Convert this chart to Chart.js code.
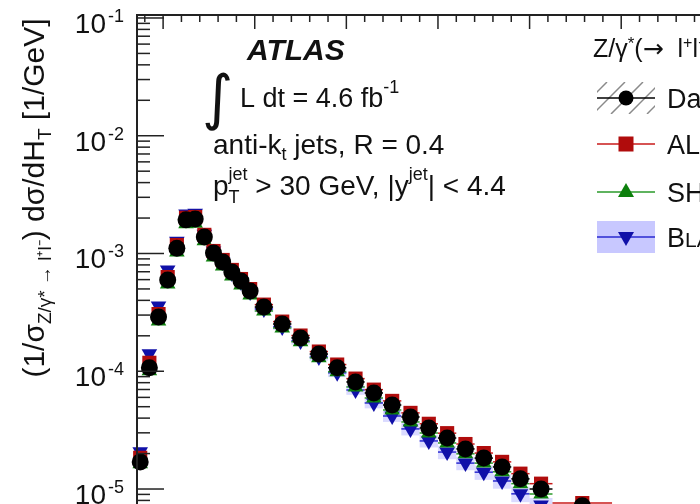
<!DOCTYPE html>
<html>
<head>
<meta charset="utf-8">
<script src="https://cdn.jsdelivr.net/npm/chart.js@4.4.0/dist/chart.umd.min.js"></script>
<style>
  html, body { margin: 0; padding: 0; background: #fff; overflow: hidden; }
  canvas { display: block; }
</style>
</head>
<body>
<canvas id="chart" width="700" height="504"></canvas>
<script>
// H_T bins [GeV]
var binCentres = [75, 85, 95, 105, 115, 125, 135, 145, 155, 165, 175, 185, 195,
                  210, 230, 250, 270, 290, 310, 330, 350, 370, 390, 410, 430, 450, 470, 490,
                  512.5, 557.5];
var binEdges = [70, 80, 90, 100, 110, 120, 130, 140, 150, 160, 170, 180, 190, 200,
                220, 240, 260, 280, 300, 320, 340, 360, 380, 400, 420, 440, 460, 480, 500,
                525, 590];

// (1/sigma) dsigma/dH_T [1/GeV]
var dataValues = [1.70e-5, 1.07e-4, 2.89e-4, 5.95e-4, 1.11e-3, 1.93e-3, 1.96e-3, 1.38e-3, 1.01e-3, 8.47e-4,
                  6.97e-4, 5.84e-4, 4.80e-4, 3.51e-4, 2.52e-4, 1.92e-4, 1.40e-4, 1.07e-4, 8.11e-5, 6.54e-5,
                  5.17e-5, 4.09e-5, 3.30e-5, 2.71e-5, 2.19e-5, 1.83e-5, 1.54e-5, 1.22e-5, 1.00e-5, 7.2e-6];
var alpgenValues = [1.84e-5, 1.18e-4, 3.06e-4, 6.31e-4, 1.18e-3, 2.01e-3, 2.04e-3, 1.44e-3, 1.05e-3, 8.81e-4,
                    7.25e-4, 6.07e-4, 4.99e-4, 3.68e-4, 2.64e-4, 2.01e-4, 1.47e-4, 1.14e-4, 8.66e-5, 6.98e-5,
                    5.60e-5, 4.43e-5, 3.58e-5, 2.98e-5, 2.41e-5, 2.02e-5, 1.70e-5, 1.35e-5, 1.11e-5, 7.6e-6];
var sherpaValues = [1.64e-5, 1.01e-4, 2.67e-4, 5.50e-4, 1.03e-3, 1.79e-3, 1.81e-3, 1.28e-3, 9.34e-4, 7.83e-4,
                    6.45e-4, 5.40e-4, 4.44e-4, 3.25e-4, 2.33e-4, 1.78e-4, 1.30e-4, 9.9e-5, 7.36e-5, 5.93e-5,
                    4.69e-5, 3.71e-5, 2.99e-5, 2.46e-5, 1.99e-5, 1.66e-5, 1.40e-5, 1.11e-5, 9.07e-6, 6.66e-6];
var blackhatValues = [2.07e-5, 1.41e-4, 3.58e-4, 7.24e-4, 1.27e-3, 2.17e-3, 2.20e-3, 1.46e-3, 1.05e-3, 8.47e-4,
                      6.84e-4, 5.73e-4, 4.71e-4, 3.38e-4, 2.38e-4, 1.81e-4, 1.32e-4, 9.7e-5, 6.93e-5, 5.38e-5,
                      4.17e-5, 3.24e-5, 2.56e-5, 2.06e-5, 1.66e-5, 1.39e-5, 1.17e-5, 9.1e-6, 7.3e-6, 5.3e-6];
// relative theory uncertainty of the BlackHat+Sherpa prediction
var blackhatRelErr = [0.08, 0.07, 0.06, 0.06, 0.06, 0.05, 0.05, 0.05, 0.05, 0.05,
                      0.05, 0.05, 0.05, 0.06, 0.06, 0.07, 0.07, 0.08, 0.09, 0.10,
                      0.11, 0.12, 0.12, 0.13, 0.13, 0.14, 0.14, 0.15, 0.15, 0.16];

var yDecades = [-1, -2, -3, -4, -5];

var FONT = '"Liberation Sans", Arial, Helvetica, sans-serif';

function points(values) {
    return binCentres.map(function (x, i) { return { x: x, y: values[i] }; });
}

// draws a run of text pieces [text, size, dy, style, keep, family]; 'keep' stacks the next piece on top
function drawParts(ctx, x, y, parts, measureOnly) {
    var cx = x, kept = null;
    parts.forEach(function (p) {
        ctx.font = (p[3] || '') + ' ' + p[1] + 'px ' + (p[5] || FONT);
        var w = ctx.measureText(p[0]).width;
        if (!measureOnly) ctx.fillText(p[0], cx, y + (p[2] || 0));
        if (p[4]) { kept = w; return; }
        if (kept !== null) { w = Math.max(w, kept); kept = null; }
        cx += w;
    });
    return cx - x;
}

var markerColours = { data: '#000000', alpgen: '#b00c0c', sherpa: '#0c800c', blackhat: '#1010a8' };
var barColours = { data: '#000000', alpgen: '#c81a1a', sherpa: '#2a9a2a', blackhat: '#2a2ad0' };

var atlasDecor = {
    id: 'atlasDecor',
    beforeDatasetsDraw: function (chart) {
        var ctx = chart.ctx, xs = chart.scales.x, ys = chart.scales.y;
        ctx.save();
        // BlackHat+Sherpa uncertainty boxes
        ctx.fillStyle = 'rgba(150,150,255,0.35)';
        blackhatValues.forEach(function (v, i) {
            var x0 = xs.getPixelForValue(binEdges[i]), x1 = xs.getPixelForValue(binEdges[i + 1]);
            var y0 = ys.getPixelForValue(v * (1 + blackhatRelErr[i]));
            var y1 = ys.getPixelForValue(v * (1 - blackhatRelErr[i]));
            ctx.fillRect(x0, y0, x1 - x0, y1 - y0);
        });
        // horizontal bin-width bars
        ctx.lineWidth = 1.5;
        [['blackhat', blackhatValues], ['sherpa', sherpaValues], ['alpgen', alpgenValues], ['data', dataValues]]
            .forEach(function (s) {
                ctx.strokeStyle = barColours[s[0]];
                s[1].forEach(function (v, i) {
                    var y = ys.getPixelForValue(v);
                    ctx.beginPath();
                    ctx.moveTo(xs.getPixelForValue(binEdges[i]), y);
                    ctx.lineTo(xs.getPixelForValue(binEdges[i + 1]), y);
                    ctx.stroke();
                });
            });
        ctx.restore();
    },
    afterDraw: function (chart) {
        var ctx = chart.ctx, xs = chart.scales.x, ys = chart.scales.y, area = chart.chartArea;
        ctx.save();

        // frame (top and left)
        ctx.strokeStyle = '#222';
        ctx.lineWidth = 2;
        ctx.beginPath();
        ctx.moveTo(area.left, area.bottom);
        ctx.lineTo(area.left, area.top);
        ctx.lineTo(area.right, area.top);
        ctx.stroke();

        // inward ticks on the log axis
        ctx.lineWidth = 1.5;
        yDecades.concat([-6]).forEach(function (e) {
            for (var m = 1; m <= 9; m++) {
                var v = m * Math.pow(10, e);
                if (v < ys.min || v > ys.max) continue;
                var y = ys.getPixelForValue(v);
                ctx.beginPath();
                ctx.moveTo(area.left, y);
                ctx.lineTo(area.left + (m === 1 ? 27 : 13), y);
                ctx.stroke();
            }
        });
        // inward ticks on the top edge
        for (var t = 80; t <= xs.max; t += 20) {
            var x = xs.getPixelForValue(t);
            ctx.beginPath();
            ctx.moveTo(x, area.top);
            ctx.lineTo(x, area.top + (t % 100 === 0 ? 14 : 7));
            ctx.stroke();
        }

        // decade labels
        ctx.fillStyle = '#111';
        yDecades.forEach(function (e) {
            var y = ys.getPixelForValue(Math.pow(10, e));
            ctx.textAlign = 'right';
            ctx.font = '28px ' + FONT;
            ctx.fillText('10', 106, y + 15);
            ctx.textAlign = 'left';
            ctx.font = '18px ' + FONT;
            ctx.fillText(String(e), 108, y + 4);
        });

        // y-axis title
        ctx.save();
        ctx.translate(44, 198);
        ctx.rotate(-Math.PI / 2);
        var title = [['(1/σ', 30], ['Z/γ* → l⁺l⁻', 19, 7], [') dσ/dH', 30], ['T', 19, 7], [' [1/GeV]', 30]];
        var tw = drawParts(ctx, 0, 0, title, true);
        drawParts(ctx, -tw / 2, 0, title);
        ctx.restore();

        // labels inside the frame
        ctx.font = 'italic bold 30px ' + FONT;
        ctx.fillText('ATLAS', 247, 60);
        ctx.font = '60px "DejaVu Sans", sans-serif';
        ctx.fillText('∫', 202, 118);
        drawParts(ctx, 240, 107, [['L dt = 4.6 fb', 27], ['-1', 18, -14]]);
        drawParts(ctx, 213, 154, [['anti-k', 28], ['t', 18, 6], [' jets, R = 0.4', 28]]);
        drawParts(ctx, 213, 195, [['p', 28], ['jet', 18, -15, '', true], ['T', 18, 8],
                                  [' > 30 GeV, |y', 28], ['jet', 18, -15], ['| < 4.4', 28]]);

        // legend
        drawParts(ctx, 593, 57, [['Z/γ', 25], ['*', 17, -8], ['(', 25],
                                 ['→', 25, 0, '', false, '"DejaVu Sans", sans-serif'], ['  l', 25],
                                 ['+', 16, -9, '', true], ['', 16],
                                 ['l', 25], ['−', 16, -9], [') + ≥ 1 jet', 25]]);
        var lx0 = 597, lx1 = 655, lxc = 626, tx = 667;
        var rows = [98, 144, 192, 237];

        // Data entry: hatched systematic box, line, dot
        ctx.save();
        ctx.beginPath();
        ctx.rect(lx0, rows[0] - 16, lx1 - lx0, 32);
        ctx.clip();
        ctx.strokeStyle = '#8a8a8a';
        ctx.lineWidth = 1.5;
        for (var h = lx0 - 40; h < lx1 + 40; h += 18) {
            ctx.beginPath();
            ctx.moveTo(h, rows[0] + 16);
            ctx.lineTo(h + 32, rows[0] - 16);
            ctx.stroke();
        }
        ctx.restore();
        ctx.strokeStyle = '#000';
        ctx.lineWidth = 1.5;
        ctx.beginPath(); ctx.moveTo(lx0, rows[0]); ctx.lineTo(lx1, rows[0]); ctx.stroke();
        ctx.fillStyle = '#000';
        ctx.beginPath(); ctx.arc(lxc, rows[0], 7.5, 0, Math.PI * 2); ctx.fill();

        // ALPGEN entry
        ctx.strokeStyle = barColours.alpgen;
        ctx.beginPath(); ctx.moveTo(lx0, rows[1]); ctx.lineTo(lx1, rows[1]); ctx.stroke();
        ctx.fillStyle = markerColours.alpgen;
        ctx.fillRect(lxc - 7.5, rows[1] - 7.5, 15, 15);

        // SHERPA entry
        ctx.strokeStyle = barColours.sherpa;
        ctx.beginPath(); ctx.moveTo(lx0, rows[2]); ctx.lineTo(lx1, rows[2]); ctx.stroke();
        ctx.fillStyle = markerColours.sherpa;
        ctx.beginPath();
        ctx.moveTo(lxc, rows[2] - 9); ctx.lineTo(lxc + 8, rows[2] + 5); ctx.lineTo(lxc - 8, rows[2] + 5);
        ctx.closePath(); ctx.fill();

        // BlackHat+Sherpa entry
        ctx.fillStyle = '#c8c8ff';
        ctx.fillRect(lx0, rows[3] - 16, lx1 - lx0, 32);
        ctx.strokeStyle = barColours.blackhat;
        ctx.beginPath(); ctx.moveTo(lx0, rows[3]); ctx.lineTo(lx1, rows[3]); ctx.stroke();
        ctx.fillStyle = markerColours.blackhat;
        ctx.beginPath();
        ctx.moveTo(lxc, rows[3] + 9); ctx.lineTo(lxc + 8, rows[3] - 5); ctx.lineTo(lxc - 8, rows[3] - 5);
        ctx.closePath(); ctx.fill();

        ctx.fillStyle = '#111';
        drawParts(ctx, tx, rows[0] + 10, [['Data 2011 (√s = 7 TeV)', 27]]);
        drawParts(ctx, tx, rows[1] + 10, [['ALPGEN', 27]]);
        drawParts(ctx, tx, rows[2] + 10, [['SHERPA', 27]]);
        drawParts(ctx, tx, rows[3] + 10, [['B', 27], ['LACK', 21], ['H', 27], ['AT', 21], ['+SHERPA', 27]]);

        ctx.restore();
    }
};

var canvas = document.getElementById('chart');
var ctx = canvas.getContext('2d');

new Chart(ctx, {
    type: 'scatter',
    data: {
        datasets: [
            {
                label: 'Data 2011',
                data: points(dataValues),
                pointStyle: 'circle',
                pointRadius: 8.5,
                backgroundColor: markerColours.data,
                borderWidth: 0,
                clip: false
            },
            {
                label: 'ALPGEN',
                data: points(alpgenValues),
                pointStyle: 'rect',
                pointRadius: 10,
                backgroundColor: markerColours.alpgen,
                borderWidth: 0,
                clip: false
            },
            {
                label: 'SHERPA',
                data: points(sherpaValues),
                pointStyle: 'triangle',
                pointRadius: 9,
                backgroundColor: markerColours.sherpa,
                borderWidth: 0,
                clip: false
            },
            {
                label: 'BlackHat+Sherpa',
                data: points(blackhatValues),
                pointStyle: 'triangle',
                pointRotation: 180,
                pointRadius: 9,
                backgroundColor: markerColours.blackhat,
                borderWidth: 0,
                clip: false
            }
        ]
    },
    options: {
        responsive: false,
        animation: false,
        events: [],
        layout: { autoPadding: false, padding: { left: 137, top: 15, right: 0, bottom: 0 } },
        scales: {
            x: { type: 'linear', display: false, bounds: 'data', min: 71.5, max: 686 },
            y: { type: 'logarithmic', display: false, bounds: 'data', min: 7.46e-6, max: 0.106 }
        },
        plugins: {
            legend: { display: false },
            tooltip: { enabled: false }
        }
    },
    plugins: [atlasDecor]
});
</script>
</body>
</html>
